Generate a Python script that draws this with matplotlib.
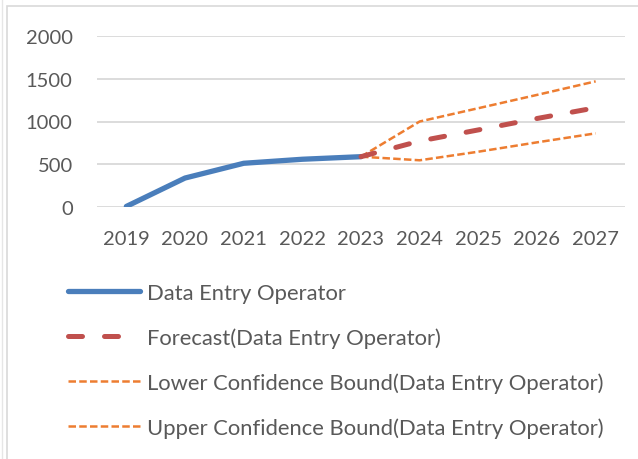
import matplotlib.pyplot as plt
from matplotlib.patches import Rectangle
from matplotlib.lines import Line2D

years = ["2019", "2020", "2021", "2022", "2023", "2024", "2025", "2026", "2027"]
actual = [10, 341, 513, 560, 590]
forecast = [590, 772, 902, 1035, 1160]
lower = [590, 548, 648, 757, 862]
upper = [590, 1000, 1155, 1310, 1468]
labels = ["Data Entry Operator",
          "Forecast(Data Entry Operator)",
          "Lower Confidence Bound(Data Entry Operator)",
          "Upper Confidence Bound(Data Entry Operator)"]

blue = '#4a7ebb'
red = '#c0504d'
orange = '#ed7d31'
txt = '#595959'

plt.rcParams['font.family'] = ['Lato', 'DejaVu Sans']

W, H = 638, 460
fig = plt.figure(figsize=(W / 100, H / 100), dpi=100)
ax = fig.add_axes([97 / W, 1 - 208.3 / H, 528 / W, 171.6 / H])

x_act = list(range(len(actual)))
x_fc = list(range(4, 4 + len(forecast)))

l1, = ax.plot(x_act, actual, color=blue, lw=3.8, solid_capstyle='round', solid_joinstyle='round')
l3, = ax.plot(x_fc, lower, color=orange, lw=1.8, dashes=(3.0, 1.3), solid_joinstyle='round')
l4, = ax.plot(x_fc, upper, color=orange, lw=1.8, dashes=(3.0, 1.3), solid_joinstyle='round')
l2, = ax.plot(x_fc, forecast, color=red, lw=3.6, dashes=(2.8, 4.4), dash_capstyle='round')

ax.set_xlim(-0.5, len(years) - 0.5)
ax.set_ylim(0, 2000)
ax.set_yticks([0, 500, 1000, 1500, 2000])
ax.set_xticks(range(len(years)))
ax.set_xticklabels(years)
ax.tick_params(length=0, labelsize=14.5, colors=txt)
ax.tick_params(axis='y', pad=17.5)
ax.tick_params(axis='x', pad=16.5)
ax.grid(axis='y', color='#d9d9d9', lw=1.3)
ax.set_axisbelow(True)
for s in ax.spines.values():
    s.set_visible(False)

leg = fig.legend([l1, l2, l3, l4], labels, loc='upper left',
                 bbox_to_anchor=(68 / W, 1 - 284 / H), frameon=False,
                 fontsize=15.8, labelcolor=txt, handlelength=3.3,
                 handletextpad=0.3, labelspacing=1.11, borderpad=0,
                 borderaxespad=0)

# chart area border
fig.patches.append(Rectangle((7 / W, -0.05), 1.1, 1 - 7 / H + 0.05, transform=fig.transFigure,
                             fill=False, edgecolor='#d9d9d9', lw=1.2))
fig.lines.append(Line2D([1.5 / W, 1.5 / W], [0, 1], transform=fig.transFigure,
                        color='#e6e6e6', lw=1))

fig.savefig('out.png', dpi=100)
